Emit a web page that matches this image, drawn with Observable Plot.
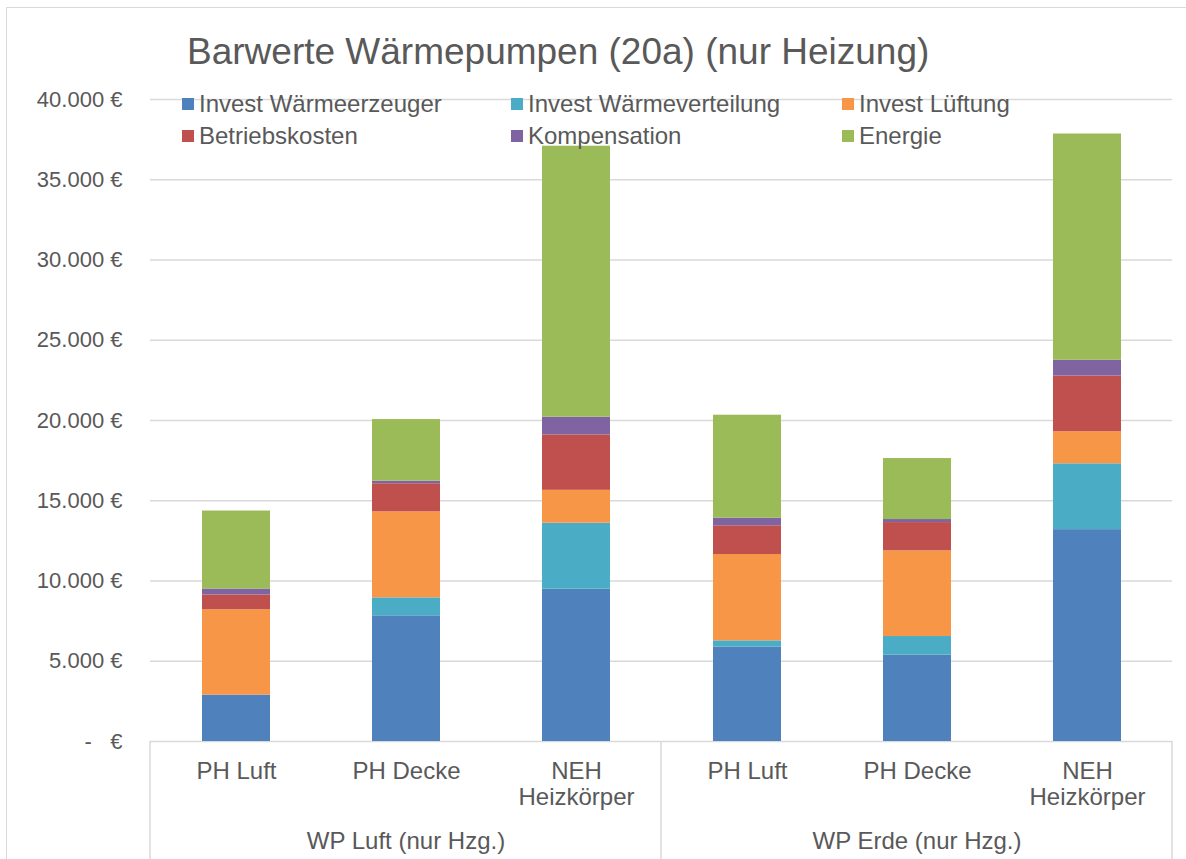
<!DOCTYPE html>
<html>
<head>
<meta charset="utf-8">
<script src="https://cdn.jsdelivr.net/npm/d3@7"></script>
<script src="https://cdn.jsdelivr.net/npm/@observablehq/plot@0.6"></script>
<style>
  body { margin: 0; background: #fff; font-family: "Liberation Sans", Arial, sans-serif; }
  #wrap { position: relative; width: 1186px; height: 859px; overflow: hidden; background: #fff; }
  #wrap svg.plot { position: absolute; left: 0; top: 0; }
  #border { position: absolute; left: 6px; top: 7px; width: 1300px; height: 1000px;
            border-left: 1px solid #d9d9d9; border-top: 1px solid #d9d9d9; pointer-events: none; }
  #title { position: absolute; left: 187px; top: 33px; font-size: 37px; line-height: 37px;
           color: #595959; white-space: nowrap; }
  .lg-sw { position: absolute; width: 12px; height: 12px; }
  .lg-tx { position: absolute; font-size: 24px; line-height: 24px; color: #595959; white-space: nowrap; }
</style>
</head>
<body>
<div id="wrap"></div>
<script>
// ---- data ----
const groups = ["WP Luft (nur Hzg.)", "WP Erde (nur Hzg.)"];
const categories = ["PH Luft", "PH Decke", "NEH Heizkörper"];
const categoryLabels = ["PH Luft", "PH Decke", "NEH\nHeizkörper"];
const seriesNames = ["Invest Wärmeerzeuger", "Invest Wärmeverteilung", "Invest Lüftung",
                     "Betriebskosten", "Kompensation", "Energie"];
const seriesColors = ["#4F81BD", "#4BACC6", "#F79646", "#C0504D", "#8064A2", "#9BBB59"];
// order of bars: Luft/PH Luft, Luft/PH Decke, Luft/NEH, Erde/PH Luft, Erde/PH Decke, Erde/NEH
const investWaermeerzeuger   = [2890, 7830, 9490, 5880, 5380, 13200];
const investWaermeverteilung = [0, 1120, 4110, 390, 1160, 4100];
const investLueftung         = [5320, 5360, 2050, 5380, 5340, 2000];
const betriebskosten         = [920, 1750, 3450, 1790, 1760, 3475];
const kompensation           = [370, 160, 1110, 470, 190, 975];
const energie                = [4860, 3840, 16880, 6420, 3800, 14100];
const yTicks = [0, 5000, 10000, 15000, 20000, 25000, 30000, 35000, 40000];
const title = "Barwerte Wärmepumpen (20a) (nur Heizung)";

// ---- tidy table ----
const seriesValues = [investWaermeerzeuger, investWaermeverteilung, investLueftung,
                      betriebskosten, kompensation, energie];
const data = [];
seriesNames.forEach((s, si) => {
  groups.forEach((g, gi) => {
    categories.forEach((c, ci) => {
      data.push({group: g, cat: c, series: s, value: seriesValues[si][gi * 3 + ci]});
    });
  });
});

const labelOf = new Map(categories.map((c, i) => [c, categoryLabels[i]]));
const fmtY = v => v === 0 ? "-\u00a0\u00a0\u00a0€" :
  d3.format(",")(v).replace(/,/g, ".") + "\u00a0€";

const W = 1186, H = 859, mL = 150, mR = 14, mT = 99, mB = 118;
const grid = "#d9d9d9";

const plot = Plot.plot({
  width: W, height: H,
  marginLeft: mL, marginRight: mR, marginTop: mT, marginBottom: mB,
  style: {fontFamily: "'Liberation Sans', Arial, sans-serif", color: "#595959", background: "transparent"},
  fx: {domain: groups, padding: 0},
  x: {domain: categories, paddingInner: 0.6, paddingOuter: 0.3},
  y: {domain: [0, 40000]},
  color: {domain: seriesNames, range: seriesColors},
  marks: [
    Plot.gridY(yTicks, {stroke: grid, strokeOpacity: 1, strokeWidth: 1.5}),
    Plot.barY(data, {fx: "group", x: "cat", y: "value", fill: "series"}),
    Plot.axisY(yTicks, {tickSize: 0, tickPadding: 28, tickFormat: fmtY, fontSize: 22, label: null}),
    Plot.axisX({tickSize: 0, tickPadding: 19, fontSize: 24, lineHeight: 1.08,
                tickFormat: d => labelOf.get(d), label: null}),
    Plot.axisFx({anchor: "bottom", tickSize: 0, tickPadding: 90, fontSize: 24, label: null})
  ]
});
plot.classList.add("plot");

// group divider lines in the category axis area, from the fx scale
const fx = plot.scale("fx");
const edges = groups.map(g => fx.apply(g));
edges.push(fx.apply(groups[groups.length - 1]) + fx.bandwidth);
d3.select(plot).append("g")
  .selectAll("line").data(edges).join("line")
  .attr("x1", d => d).attr("x2", d => d)
  .attr("y1", H - mB).attr("y2", H)
  .attr("stroke", grid).attr("stroke-width", 1.5);

const wrap = document.getElementById("wrap");
wrap.appendChild(plot);

const border = document.createElement("div");
border.id = "border";
wrap.appendChild(border);

const t = document.createElement("div");
t.id = "title";
t.textContent = title;
wrap.appendChild(t);

// legend (3 columns x 2 rows)
const colX = [182, 511, 842];
const rowY = [98, 130];
seriesNames.forEach((s, i) => {
  const cx = colX[i % 3], ry = rowY[Math.floor(i / 3)];
  const sw = document.createElement("div");
  sw.className = "lg-sw";
  sw.style.left = cx + "px"; sw.style.top = ry + "px";
  sw.style.background = seriesColors[i];
  wrap.appendChild(sw);
  const tx = document.createElement("div");
  tx.className = "lg-tx";
  tx.style.left = (cx + 17) + "px"; tx.style.top = (ry - 6) + "px";
  tx.textContent = s;
  wrap.appendChild(tx);
});
</script>
</body>
</html>
